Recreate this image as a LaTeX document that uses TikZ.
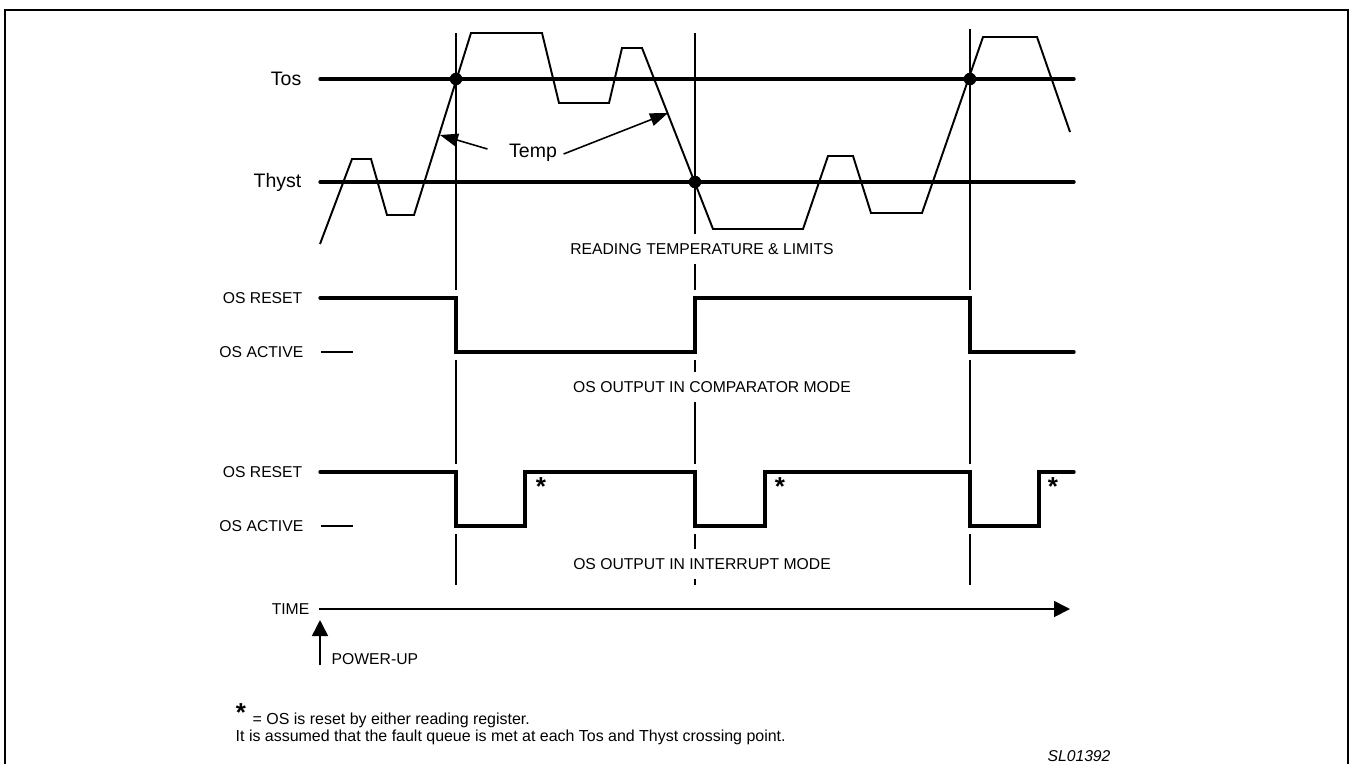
\documentclass[tikz,border=0pt]{standalone}
\usepackage{fontspec}
\setmainfont{Liberation Sans}
\usetikzlibrary{arrows.meta,positioning}
\newcommand{\bigtxt}{\fontsize{5.55}{6.6}\selectfont}
\newcommand{\smalltxt}{\fontsize{4.47}{5.4}\selectfont}
\newcommand{\notetxt}{\fontsize{4.54}{5.4}\selectfont}
\newcommand{\startxt}{\fontsize{7.4}{8}\selectfont\bfseries}
\tikzset{
  frame/.style  ={line width=0.75pt},
  level/.style  ={line width=0.95pt, line cap=round},
  wave/.style   ={line width=0.55pt, line join=miter},
  sig/.style    ={line width=0.95pt, line cap=round, line join=miter},
  % white band under a signal, so that the guides stop short of its corners
  halo/.style   ={draw=white, line width=1.6mm},
  guide/.style  ={line width=0.3pt},
  xdot/.style   ={circle, fill=black, inner sep=0pt, minimum size=1.25mm},
  biglab/.style ={font=\bigtxt, inner sep=0pt},
  lab/.style    ={font=\smalltxt, inner sep=0pt},
  note/.style   ={font=\notetxt, inner sep=0pt, anchor=west},
  modelab/.style={lab, fill=white, inner xsep=0.6mm, inner ysep=0.9mm},
  ptr/.style    ={line width=0.45pt, -{Triangle[length=1.8mm,width=1.3mm]}},
  axis/.style   ={line width=0.45pt, -{Triangle[length=1.6mm,width=1.6mm]}},
  starlab/.style={font=\startxt, inner sep=0pt, anchor=north},
}
% temperature trace, after its first point (320,244)
\def\templist{352/159, 371/159, 387/215, 414/215, 471/33, 542/33, 559/103,
  609/103, 622/48, 642/48, 713/229, 803/229, 828/156, 853/156, 871/213,
  922/213, 983/37, 1037/37, 1070/132}
\def\guidelist{456/33, 695/33, 970/29}
\def\compsig{(320,298) -- (456,298) -- (456,352) -- (695,352) -- (695,298)
  -- (970,298) -- (970,352) -- (1074,352)}
\def\intsig{(320,472) -- (456,472) -- (456,526) -- (525,526) -- (525,472)
  -- (695,472) -- (695,526) -- (765,526) -- (765,472) -- (970,472)
  -- (970,526) -- (1039,526) -- (1039,472) -- (1074,472)}

\begin{document}
\begin{tikzpicture}[x=0.1mm,y=-0.1mm]
\useasboundingbox (0,0) rectangle (1351,764);
\draw[frame] (5,764) -- (5,10) -- (1348,10) -- (1348,764);
% --- guides at the three crossing points ---
\foreach \x/\y in \guidelist {\draw[guide] (\x,\y) -- (\x,585);}
\draw[halo] \compsig;
\draw[halo] \intsig;
% --- temperature and limits ---
\node[biglab,anchor=east] (tos) at (302,79) {Tos};
\node[biglab,anchor=east] (thyst) at (302,182) {Thyst};
\draw[level] (320,79) -- (1074,79);
\draw[level] (320,182) -- (1074,182);
\draw[wave] (320,244) \foreach \x/\y in \templist {-- (\x,\y)};
\node[xdot] (c1) at (456,79) {};
\node[xdot] (c2) at (695,182) {};
\node[xdot] (c3) at (970,79) {};
\node[biglab] (tmp) at (533,153) {Temp};
\coordinate (ta) at (440,135);
\coordinate (tb) at (668,113);
\draw[ptr] ([xshift=-2.1mm,yshift=0.4mm]tmp.west) -- (ta);
\draw[ptr] ([xshift=0.6mm,yshift=-0.1mm]tmp.east) -- (tb);
\node[modelab] (rdlab) at (702,249) {READING TEMPERATURE \& LIMITS};
% --- comparator mode ---
\node[lab,anchor=east] (cres) at (303,298) {OS RESET};
\node[lab,anchor=east] (cact) at (304,352) {OS ACTIVE};
\draw[guide] (321,352) -- (353,352);
\draw[sig] \compsig;
\node[modelab] (cmplab) at (712,387) {OS OUTPUT IN COMPARATOR MODE};
% --- interrupt mode ---
\node[lab,anchor=east] (ires) at (303,472) {OS RESET};
\node[lab,anchor=east] (iact) at (304,526) {OS ACTIVE};
\draw[guide] (321,526) -- (353,526);
\draw[sig] \intsig;
\node[starlab] (s1) at (541,477) {*};
\node[starlab] (s2) at (780,477) {*};
\node[starlab] (s3) at (1053,477) {*};
\node[modelab] (intlab) at (702,564) {OS OUTPUT IN INTERRUPT MODE};
% --- time axis and power-up ---
\node[lab,anchor=east] (time) at (310,609) {TIME};
\coordinate (tend) at (1070,609);
\draw[axis] ([xshift=0.9mm]time.east) -- (tend);
\coordinate (pubot) at (320,665);
\coordinate (putop) at (320,620);
\draw[axis] (pubot) -- (putop);
\node[lab,anchor=west] (pwr) at (331,659) {POWER-UP};
% --- notes ---
\node[starlab] (fstar) at (241,703) {*};
\node[note] (note1) at (252,720) {= OS is reset by either reading register.};
\node[note] (note2) at (235,737) {It is assumed that the fault queue is met at each Tos and Thyst crossing point.};
\node[lab,font=\smalltxt\itshape] (figid) at (1079,756) {SL01392};
\end{tikzpicture}
\end{document}
